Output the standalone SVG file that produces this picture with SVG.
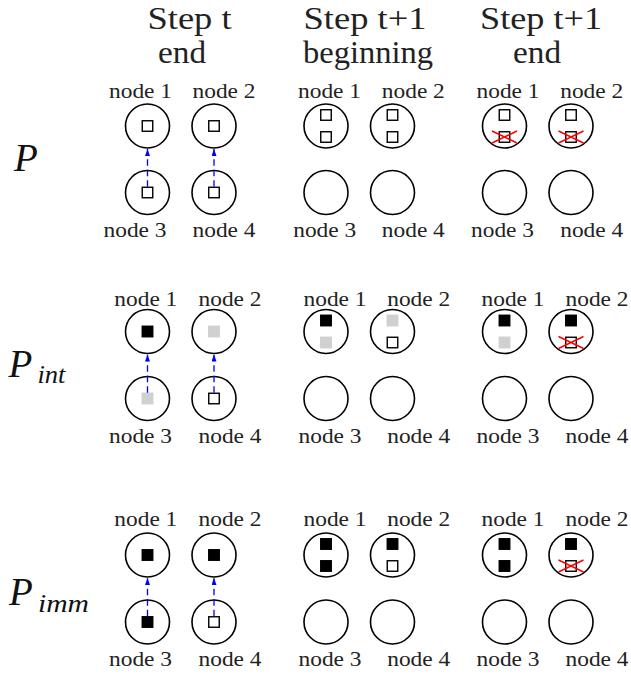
<svg xmlns="http://www.w3.org/2000/svg" width="631" height="674" viewBox="0 0 631 674" font-family="'Liberation Serif', 'Times New Roman', serif">
<style>
.c{fill:none;stroke:#000;stroke-width:1.6}
.w{fill:#fff;stroke:#000;stroke-width:1.4}
.b{fill:#000;stroke:#000;stroke-width:1.4}
.g{fill:#d0d0d0;stroke:#d0d0d0;stroke-width:1.4}
.x{stroke:#f00;stroke-width:1.5;fill:none}
.l{font-family:'Liberation Serif','Times New Roman',serif;font-size:22px;fill:#222;text-anchor:middle}
.h{font-family:'Liberation Serif','Times New Roman',serif;font-size:32px;fill:#222;text-anchor:middle}
.m{font-family:'Liberation Serif','Times New Roman',serif;font-style:italic;fill:#111}
.a{stroke:#00f;stroke-width:1.3;stroke-dasharray:6.5 4;fill:none;marker-end:url(#ah)}
</style>
<defs>
<marker id="ah" markerUnits="userSpaceOnUse" viewBox="0 0 7 5" markerWidth="7" markerHeight="5" refX="7" refY="2.5" orient="auto">
<path d="M0,0 L7,2.5 L0,5 z" fill="#00f"/>
</marker>
<rect id="sq" x="-5.25" y="-5.25" width="10.5" height="10.5"/>
<path id="xx" d="M-12.5,5 L12.5,17 M-12.5,17 L12.5,5"/>
</defs>

<g id="headers">
<text class="h" x="189.5" y="28.5" textLength="84" lengthAdjust="spacingAndGlyphs">Step t</text>
<text class="h" x="182" y="62.5" textLength="48" lengthAdjust="spacingAndGlyphs">end</text>
<text class="h" x="365" y="28.5" textLength="123" lengthAdjust="spacingAndGlyphs">Step t+1</text>
<text class="h" x="368" y="62.5" textLength="130" lengthAdjust="spacingAndGlyphs">beginning</text>
<text class="h" x="541" y="28.5" textLength="122" lengthAdjust="spacingAndGlyphs">Step t+1</text>
<text class="h" x="537" y="62.5" textLength="48" lengthAdjust="spacingAndGlyphs">end</text>
</g>

<g id="rowlabels">
<text class="m" x="14" y="171" font-size="39">P</text>
<text class="m" x="8.5" y="377" font-size="39">P</text>
<text class="m" x="37.5" y="383" font-size="25" textLength="28" lengthAdjust="spacingAndGlyphs">int</text>
<text class="m" x="9" y="605" font-size="39">P</text>
<text class="m" x="38" y="611.5" font-size="25" textLength="51" lengthAdjust="spacingAndGlyphs">imm</text>
</g>

<!-- Row 1 : P -->
<g id="r1g1n1"><circle class="c" cx="147.5" cy="126" r="22"/><use href="#sq" class="w" x="147.5" y="126"/><text class="l" x="140.5" y="98" textLength="63" lengthAdjust="spacingAndGlyphs">node 1</text></g>
<g id="r1g1n2"><circle class="c" cx="214" cy="126" r="22"/><use href="#sq" class="w" x="214" y="126"/><text class="l" x="224" y="98" textLength="63" lengthAdjust="spacingAndGlyphs">node 2</text></g>
<g id="r1g1n3"><circle class="c" cx="147.5" cy="192.5" r="22"/><use href="#sq" class="w" x="147.5" y="192.5"/><text class="l" x="135" y="237" textLength="63" lengthAdjust="spacingAndGlyphs">node 3</text></g>
<g id="r1g1n4"><circle class="c" cx="214" cy="192.5" r="22"/><use href="#sq" class="w" x="214" y="192.5"/><text class="l" x="224" y="237" textLength="63" lengthAdjust="spacingAndGlyphs">node 4</text></g>

<g id="r1g2n1"><circle class="c" cx="326" cy="126" r="22"/><use href="#sq" class="w" x="326" y="115"/><use href="#sq" class="w" x="326" y="137"/><text class="l" x="329.5" y="98" textLength="63" lengthAdjust="spacingAndGlyphs">node 1</text></g>
<g id="r1g2n2"><circle class="c" cx="392.5" cy="126" r="22"/><use href="#sq" class="w" x="392.5" y="115"/><use href="#sq" class="w" x="392.5" y="137"/><text class="l" x="413.3" y="98" textLength="63" lengthAdjust="spacingAndGlyphs">node 2</text></g>
<g id="r1g2n3"><circle class="c" cx="326" cy="192.5" r="22"/><text class="l" x="324.7" y="237" textLength="63" lengthAdjust="spacingAndGlyphs">node 3</text></g>
<g id="r1g2n4"><circle class="c" cx="392.5" cy="192.5" r="22"/><text class="l" x="413.3" y="237" textLength="63" lengthAdjust="spacingAndGlyphs">node 4</text></g>

<g id="r1g3n1"><circle class="c" cx="504.5" cy="126" r="22"/><use href="#sq" class="w" x="504.5" y="115"/><use href="#sq" class="w" x="504.5" y="137"/><use href="#xx" class="x" x="504.5" y="126"/><text class="l" x="508" y="98" textLength="63" lengthAdjust="spacingAndGlyphs">node 1</text></g>
<g id="r1g3n2"><circle class="c" cx="571" cy="126" r="22"/><use href="#sq" class="w" x="571" y="115"/><use href="#sq" class="w" x="571" y="137"/><use href="#xx" class="x" x="571" y="126"/><text class="l" x="591.7" y="98" textLength="63" lengthAdjust="spacingAndGlyphs">node 2</text></g>
<g id="r1g3n3"><circle class="c" cx="504.5" cy="192.5" r="22"/><text class="l" x="502.5" y="237" textLength="63" lengthAdjust="spacingAndGlyphs">node 3</text></g>
<g id="r1g3n4"><circle class="c" cx="571" cy="192.5" r="22"/><text class="l" x="591.7" y="237" textLength="63" lengthAdjust="spacingAndGlyphs">node 4</text></g>

<!-- Row 2 : P_int -->
<g id="r2g1n1"><circle class="c" cx="147.5" cy="331.5" r="22"/><use href="#sq" class="b" x="147.5" y="331.5"/><text class="l" x="145.8" y="305.5" textLength="63" lengthAdjust="spacingAndGlyphs">node 1</text></g>
<g id="r2g1n2"><circle class="c" cx="214" cy="331.5" r="22"/><use href="#sq" class="g" x="214" y="331.5"/><text class="l" x="230" y="305.5" textLength="63" lengthAdjust="spacingAndGlyphs">node 2</text></g>
<g id="r2g1n3"><circle class="c" cx="147.5" cy="398.5" r="22"/><use href="#sq" class="g" x="147.5" y="398.5"/><text class="l" x="140.5" y="443" textLength="63" lengthAdjust="spacingAndGlyphs">node 3</text></g>
<g id="r2g1n4"><circle class="c" cx="214" cy="398.5" r="22"/><use href="#sq" class="w" x="214" y="398.5"/><text class="l" x="230" y="443" textLength="63" lengthAdjust="spacingAndGlyphs">node 4</text></g>

<g id="r2g2n1"><circle class="c" cx="326" cy="331.5" r="22"/><use href="#sq" class="b" x="326" y="320.5"/><use href="#sq" class="g" x="326" y="342.5"/><text class="l" x="335" y="305.5" textLength="63" lengthAdjust="spacingAndGlyphs">node 1</text></g>
<g id="r2g2n2"><circle class="c" cx="392.5" cy="331.5" r="22"/><use href="#sq" class="g" x="392.5" y="320.5"/><use href="#sq" class="w" x="392.5" y="342.5"/><text class="l" x="418.7" y="305.5" textLength="63" lengthAdjust="spacingAndGlyphs">node 2</text></g>
<g id="r2g2n3"><circle class="c" cx="326" cy="398.5" r="22"/><text class="l" x="330" y="443" textLength="63" lengthAdjust="spacingAndGlyphs">node 3</text></g>
<g id="r2g2n4"><circle class="c" cx="392.5" cy="398.5" r="22"/><text class="l" x="418.7" y="443" textLength="63" lengthAdjust="spacingAndGlyphs">node 4</text></g>

<g id="r2g3n1"><circle class="c" cx="504.5" cy="331.5" r="22"/><use href="#sq" class="b" x="504.5" y="320.5"/><use href="#sq" class="g" x="504.5" y="342.5"/><text class="l" x="513" y="305.5" textLength="63" lengthAdjust="spacingAndGlyphs">node 1</text></g>
<g id="r2g3n2"><circle class="c" cx="571" cy="331.5" r="22"/><use href="#sq" class="b" x="571" y="320.5"/><use href="#sq" class="w" x="571" y="342.5"/><use href="#xx" class="x" x="571" y="331.5"/><text class="l" x="597" y="305.5" textLength="63" lengthAdjust="spacingAndGlyphs">node 2</text></g>
<g id="r2g3n3"><circle class="c" cx="504.5" cy="398.5" r="22"/><text class="l" x="508" y="443" textLength="63" lengthAdjust="spacingAndGlyphs">node 3</text></g>
<g id="r2g3n4"><circle class="c" cx="571" cy="398.5" r="22"/><text class="l" x="597" y="443" textLength="63" lengthAdjust="spacingAndGlyphs">node 4</text></g>

<!-- Row 3 : P_imm -->
<g id="r3g1n1"><circle class="c" cx="147.5" cy="555" r="22"/><use href="#sq" class="b" x="147.5" y="555"/><text class="l" x="145.8" y="526" textLength="63" lengthAdjust="spacingAndGlyphs">node 1</text></g>
<g id="r3g1n2"><circle class="c" cx="214" cy="555" r="22"/><use href="#sq" class="b" x="214" y="555"/><text class="l" x="230" y="526" textLength="63" lengthAdjust="spacingAndGlyphs">node 2</text></g>
<g id="r3g1n3"><circle class="c" cx="147.5" cy="622" r="22"/><use href="#sq" class="b" x="147.5" y="622"/><text class="l" x="140.5" y="666" textLength="63" lengthAdjust="spacingAndGlyphs">node 3</text></g>
<g id="r3g1n4"><circle class="c" cx="214" cy="622" r="22"/><use href="#sq" class="w" x="214" y="622"/><text class="l" x="230" y="666" textLength="63" lengthAdjust="spacingAndGlyphs">node 4</text></g>

<g id="r3g2n1"><circle class="c" cx="326" cy="555" r="22"/><use href="#sq" class="b" x="326" y="544"/><use href="#sq" class="b" x="326" y="566"/><text class="l" x="335" y="526" textLength="63" lengthAdjust="spacingAndGlyphs">node 1</text></g>
<g id="r3g2n2"><circle class="c" cx="392.5" cy="555" r="22"/><use href="#sq" class="b" x="392.5" y="544"/><use href="#sq" class="w" x="392.5" y="566"/><text class="l" x="418.7" y="526" textLength="63" lengthAdjust="spacingAndGlyphs">node 2</text></g>
<g id="r3g2n3"><circle class="c" cx="326" cy="622" r="22"/><text class="l" x="330" y="666" textLength="63" lengthAdjust="spacingAndGlyphs">node 3</text></g>
<g id="r3g2n4"><circle class="c" cx="392.5" cy="622" r="22"/><text class="l" x="418.7" y="666" textLength="63" lengthAdjust="spacingAndGlyphs">node 4</text></g>

<g id="r3g3n1"><circle class="c" cx="504.5" cy="555" r="22"/><use href="#sq" class="b" x="504.5" y="544"/><use href="#sq" class="b" x="504.5" y="566"/><text class="l" x="513" y="526" textLength="63" lengthAdjust="spacingAndGlyphs">node 1</text></g>
<g id="r3g3n2"><circle class="c" cx="571" cy="555" r="22"/><use href="#sq" class="b" x="571" y="544"/><use href="#sq" class="w" x="571" y="566"/><use href="#xx" class="x" x="571" y="555"/><text class="l" x="597" y="526" textLength="63" lengthAdjust="spacingAndGlyphs">node 2</text></g>
<g id="r3g3n3"><circle class="c" cx="504.5" cy="622" r="22"/><text class="l" x="508" y="666" textLength="63" lengthAdjust="spacingAndGlyphs">node 3</text></g>
<g id="r3g3n4"><circle class="c" cx="571" cy="622" r="22"/><text class="l" x="597" y="666" textLength="63" lengthAdjust="spacingAndGlyphs">node 4</text></g>

<g id="connectors">
<line class="a" x1="147.5" y1="186.7" x2="147.5" y2="149"/>
<line class="a" x1="214" y1="186.7" x2="214" y2="149"/>
<line class="a" x1="147.5" y1="392.7" x2="147.5" y2="354.5"/>
<line class="a" x1="214" y1="392.7" x2="214" y2="354.5"/>
<line class="a" x1="147.5" y1="616.2" x2="147.5" y2="578"/>
<line class="a" x1="214" y1="616.2" x2="214" y2="578"/>
</g>
</svg>
